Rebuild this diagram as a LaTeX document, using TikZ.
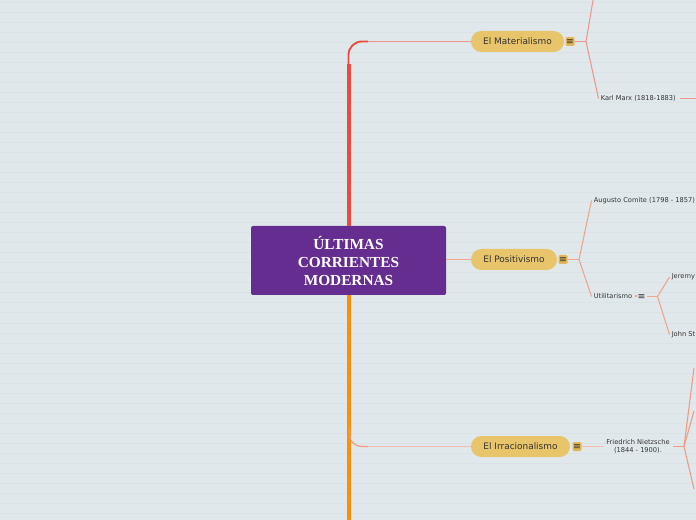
\documentclass[tikz,border=0pt]{standalone}
\usepackage{fontspec}
\setmainfont{DejaVu Sans}
\newfontfamily\titlefont{Liberation Serif}
\definecolor{bgc}{HTML}{E1E8EB}
\definecolor{bgline}{HTML}{DAE2E5}
\definecolor{centralc}{HTML}{652D90}
\definecolor{pillc}{HTML}{E8C46A}
\definecolor{iconc}{HTML}{E2B655}
\definecolor{txtc}{HTML}{333333}
\definecolor{redc}{HTML}{EE4B3E}
\definecolor{orangec}{HTML}{FF8C0A}
\definecolor{matc}{HTML}{F0968C}
\definecolor{posc}{HTML}{F0A48C}
\definecolor{irrc}{HTML}{F29A80}
\definecolor{lightc}{HTML}{F3BCAE}
\tikzset{
  central/.style={fill=centralc, rounded corners=1.5pt, minimum width=146.25pt, minimum height=51.75pt, inner sep=0pt, align=center, text=white, font=\titlefont\bfseries\fontsize{11.5}{13.5}\selectfont},
  pill/.style={fill=pillc, rounded corners=7.8pt, minimum height=15.75pt, inner sep=0pt, text=txtc, font=\fontsize{6.7}{8}\selectfont},
  iconbox/.style={fill=iconc, rounded corners=1pt, minimum width=6.75pt, minimum height=6.75pt, inner sep=0pt, text=txtc, font=\fontsize{7}{7}\selectfont},
  leaf/.style={inner sep=1.5pt, text=txtc, font=\fontsize{5}{6}\selectfont, anchor=west},
  conn/.style={line width=0.8pt},
}
\begin{document}
\begin{tikzpicture}[x=0.75pt,y=-0.75pt]
\useasboundingbox (0,0) rectangle (696,520);
\clip (0,0) rectangle (696,520);
\fill[bgc] (0,0) rectangle (696,520);
\foreach \k in {0,...,51} \draw[bgline, line width=0.75pt] (0,3+10*\k) -- (696,3+10*\k);

% central
\node[central] (c) at (348.5,260.5) {ÚLTIMAS\\CORRIENTES\\ MODERNAS};

% main topics
\node[pill, minimum width=69.75pt] (mat) at (517.5,41.5) {El Materialismo};
\node[iconbox] (mati) at (570,41.5) {≡};
\node[pill, minimum width=64.5pt] (pos) at (514,259.5) {El Positivismo};
\node[iconbox] (posi) at (563,259.5) {≡};
\node[pill, minimum width=74.25pt] (irr) at (520.5,446.5) {El Irracionalismo};
\node[iconbox] (irri) at (577,446.5) {≡};

% trunks
\coordinate (rtop) at (348.5,64);
\coordinate (rturn) at (368,41.5);
\coordinate (obot) at (348.5,521);
\coordinate (oturn) at (349.5,428);
\coordinate (oend) at (368,446.5);
\draw[redc, line width=3pt] (c.north) -- (rtop);
\draw[redc, line width=1.4pt, rounded corners=10pt] (rtop) |- (rturn);
\draw[matc, conn] (rturn) -- (mat.west);
\draw[orangec, line width=3pt] (c.south) -- (obot);
\draw[irrc, line width=0.9pt, rounded corners=9pt] (oturn) |- (oend);
\draw[lightc, conn] (oend) -- (irr.west);
\draw[posc, line width=1pt] (c.east |- pos.west) -- (pos.west);

% Materialismo children
\coordinate (mf) at (586,41.5);
\coordinate (mtop) at (593.6,-3);
\node[leaf] (km) at (598.5,98.5) {Karl Marx (1818-1883)};
\coordinate (kmr) at (697,98.5);
\draw[matc, conn] (mati.east) -- (mf);
\draw[matc, conn] (mf) -- (mtop);
\draw[matc, conn] (mf) -- (km.west);
\draw[matc, conn] (km.east) ++(2,0) -- (kmr);

% Positivismo children
\coordinate (pf) at (579,259.5);
\node[leaf] (ac) at (591.5,200.5) {Augusto Comite (1798 - 1857)};
\node[leaf] (ut) at (591.5,296.5) {Utilitarismo};
\draw[posc, conn] (posi.east) -- (pf);
\draw[posc, conn] (pf) -- (ac.west);
\draw[posc, conn] (pf) -- (ut.west);
\node[fill=posc, minimum width=1.8pt, minimum height=1.5pt, inner sep=0pt] (udot) at (636,296.5) {};
\node[inner sep=0pt, text=txtc, font=\fontsize{7}{7}\selectfont] (uico) at (641.5,296.5) {≡};
\coordinate (uf) at (657.5,296.5);
\draw[posc, line width=1.4pt] (uico.east) ++(1,0) -- (uf);
\node[leaf] (jb) at (669.5,277) {Jeremy};
\node[leaf] (js) at (669.5,334.5) {John St};
\draw[posc, conn] (uf) -- (jb.west);
\draw[posc, conn] (uf) -- (js.west);

% Irracionalismo children
\node[inner sep=1.5pt, text=txtc, font=\fontsize{5}{6}\selectfont, align=center] (fn) at (638,446.5) {Friedrich Nietzsche\\(1844 - 1900).};
\draw[lightc, conn] (irri.east) -- (fn.west);
\coordinate (nfa) at (673,446.5);
\coordinate (nf) at (684,446.5);
\draw[irrc, line width=1.4pt] (nfa) -- (nf);
\coordinate (n1) at (694,368);
\coordinate (n2) at (694,411);
\coordinate (n3) at (694,489);
\draw[irrc, conn] (nf) -- (n1);
\draw[irrc, conn] (nf) -- (n2);
\draw[irrc, conn] (nf) -- (n3);
\end{tikzpicture}
\end{document}
